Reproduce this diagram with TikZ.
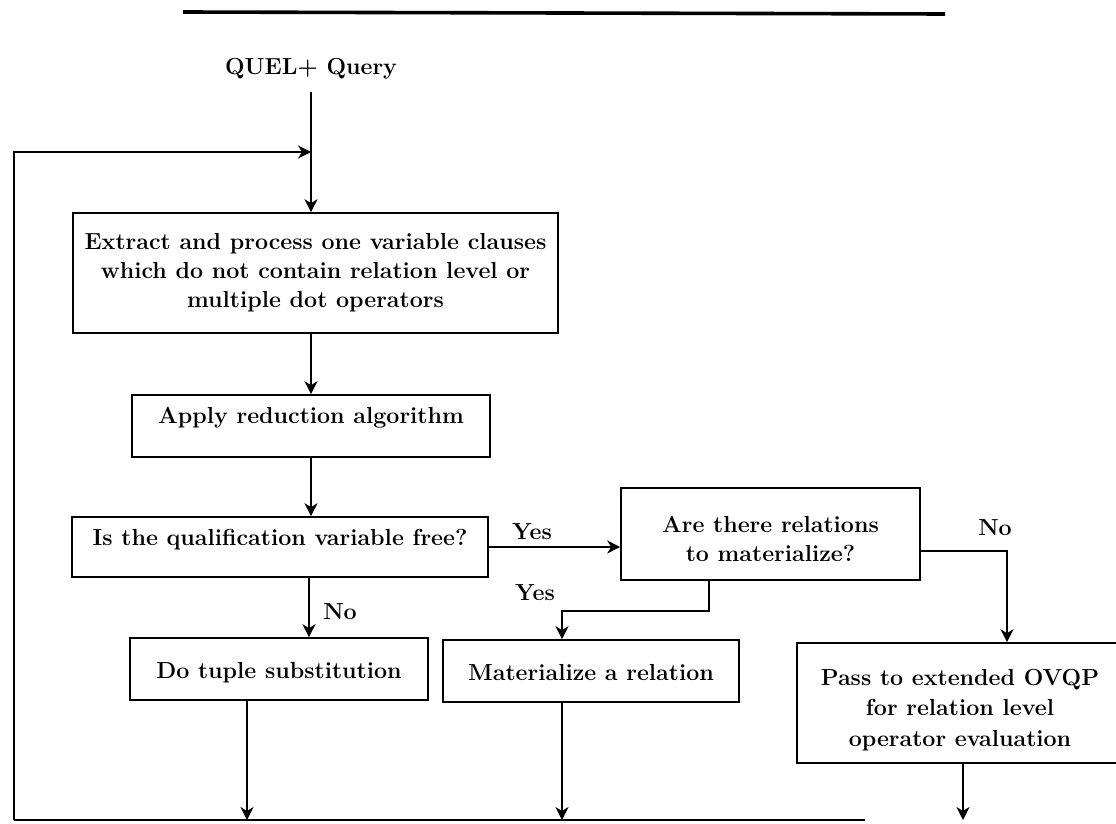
\documentclass[tikz,border=0pt]{standalone}
\usetikzlibrary{arrows.meta}
\newcommand\diagfont{\fontsize{11.6}{14.5}\selectfont\bfseries}
\begin{document}
\begin{tikzpicture}[x=0.5pt,y=-0.5pt,
  line width=0.8pt,
  arr/.style={-{Stealth[length=6.5pt,width=6.5pt,inset=2pt]}},
  box/.style={draw, inner sep=0pt, align=center, font=\diagfont},
  sz/.style 2 args={minimum width=#1*0.5pt, minimum height=#2*0.5pt},
  lbl/.style={font=\diagfont, inner sep=0pt},
  boxtext/.style={font=\fontsize{11.6}{#1}\selectfont\bfseries, align=center, inner sep=0pt},
  raise/.style={text height=8pt, text depth=#1},
  lower/.style={text height=#1, text depth=2.5pt}]
\useasboundingbox (0,0) rectangle (1116,824);

% heading rule
\draw[line width=1.8pt] (183,12) -- (945,14);

% input and loop-back
\node[lbl] (quel) at (311,69) {QUEL+ Query};
\coordinate (entry) at (311,92);
\coordinate (join) at (311,152);
\coordinate (tl) at (14,152);
\coordinate (bl) at (14,820);
\coordinate (bend) at (865,820);

% process boxes
\node[box, sz={485}{120}] (extract) at (315.5,273)
  {Extract and process one variable clauses\\which do not contain relation level or\\multiple dot operators};
\node[box, sz={358}{62}, raise=10.5pt] (apply) at (311,426) {Apply reduction algorithm};
\node[box, sz={416}{60}, raise=9.5pt] (free) at (280,547) {Is the qualification variable free?};
\node[box, sz={299}{92}] (are) at (770.5,534) {};
\node[boxtext=14.5pt] (aretext) at (770.5,538.5) {Are there relations\\to materialize?};
\node[box, sz={298}{62}, lower=12pt] (tuple) at (279,669) {Do tuple substitution};
\node[box, sz={296}{62}, lower=12pt] (mat) at (591,671) {Materialize a relation};
\node[box, sz={326}{120}] (pass) at (960,703) {};
\node[boxtext=15.2pt] (passtext) at (960,710)
  {Pass to extended OVQP\\for relation level\\operator evaluation};

% branch labels
\node[lbl] (yes1) at (532,532) {Yes};
\node[lbl] (no1) at (995,528) {No};
\node[lbl] (yes2) at (535,593) {Yes};
\node[lbl] (no2) at (340,612) {No};

% main flow
\draw[arr] (entry) -- (entry |- extract.north);
\draw[arr] (bl) -- (tl) -- (join);
\draw (bl) -- (bend);
\draw[arr] (extract.south -| apply) -- (apply.north);
\draw[arr] (apply.south) -- (apply.south |- free.north);
\draw[arr] (free.east) -- (free.east -| are.west);
\draw[arr] ([yshift=-8.5pt]are.east) -| ([xshift=23.5pt]pass.north);
\coordinate (matjog) at (562,611);
\draw[arr] ([xshift=-30.75pt]are.south) |- (matjog) -- ([xshift=-14.5pt]mat.north);
\draw[arr] ([xshift=14.5pt]free.south) -- ([xshift=14.5pt]free.south |- tuple.north);

% returns to the loop
\draw[arr] ([xshift=-16pt]tuple.south) -- ([xshift=-16pt]tuple.south |- bl);
\draw[arr] ([xshift=-14.5pt]mat.south) -- ([xshift=-14.5pt]mat.south |- bl);
\draw[arr] ([xshift=1.5pt]pass.south) -- ([xshift=1.5pt]pass.south |- bl);
\end{tikzpicture}
\end{document}
